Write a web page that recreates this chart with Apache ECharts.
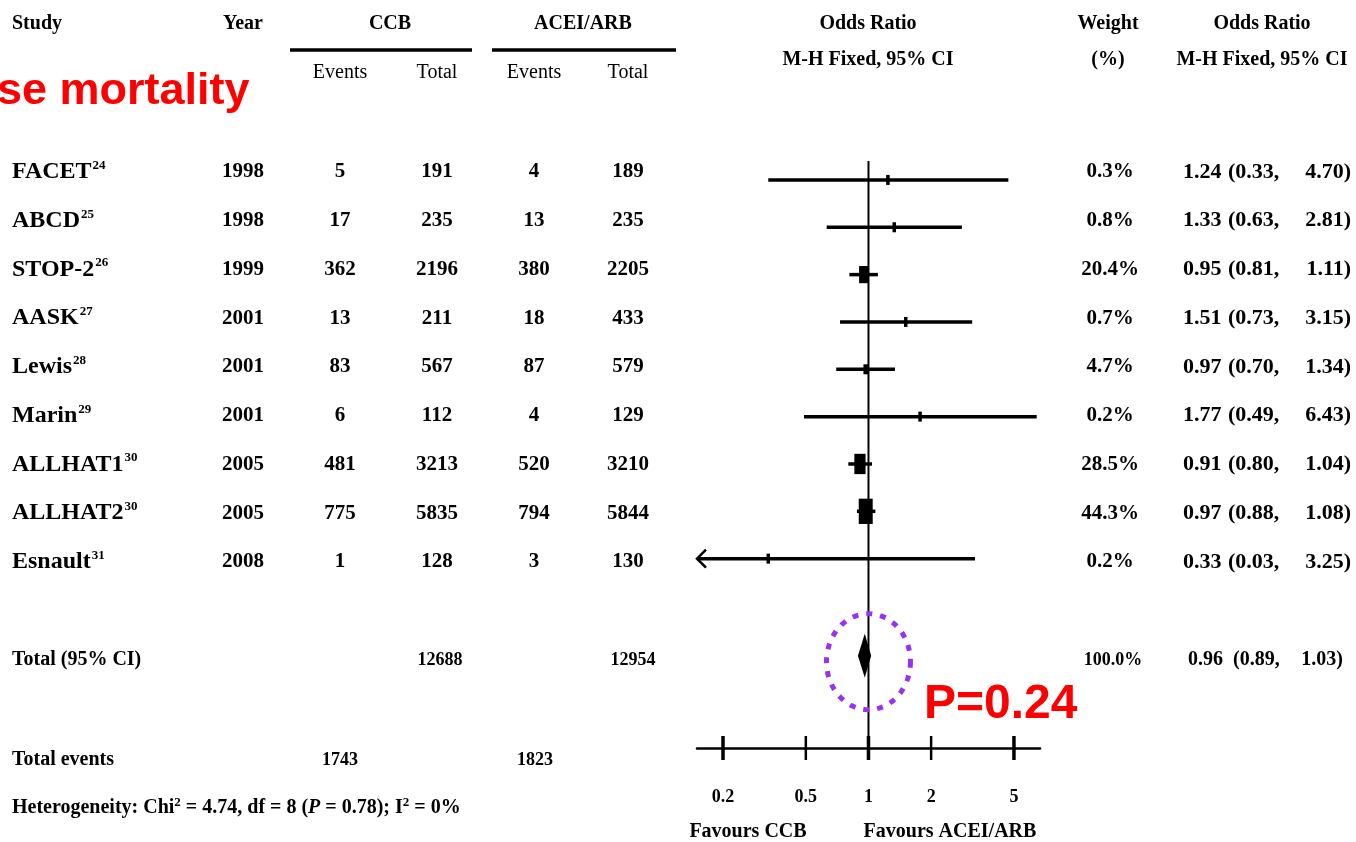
<!DOCTYPE html>
<html><head><meta charset="utf-8">
<script src="https://cdn.jsdelivr.net/npm/echarts@6/dist/echarts.min.js"></script>
<style>html,body{margin:0;padding:0;background:#fff}#c{width:1356px;height:842px}</style>
</head><body><div id="c"></div>
<script>
// ---------------- data ----------------
const studies   = ['FACET','ABCD','STOP-2','AASK','Lewis','Marin','ALLHAT1','ALLHAT2','Esnault'];
const refs      = ['24','25','26','27','28','29','30','30','31'];
const years     = [1998,1998,1999,2001,2001,2001,2005,2005,2008];
const ccbEvents = [5,17,362,13,83,6,481,775,1];
const ccbTotal  = [191,235,2196,211,567,112,3213,5835,128];
const aceEvents = [4,13,380,18,87,4,520,794,3];
const aceTotal  = [189,235,2205,433,579,129,3210,5844,130];
const weights   = [0.3,0.8,20.4,0.7,4.7,0.2,28.5,44.3,0.2];
const oddsRatio = [1.24,1.33,0.95,1.51,0.97,1.77,0.91,0.97,0.33];
const ciLower   = [0.33,0.63,0.81,0.73,0.70,0.49,0.80,0.88,0.03];
const ciUpper   = [4.70,2.81,1.11,3.15,1.34,6.43,1.04,1.08,3.25];
const totalParticipants = [12688, 12954];
const totalEvents = [1743, 1823];
const pooledWeight = 100.0;
const pooledOR = [0.96, 0.89, 1.03];
const axisTicks = [0.2, 0.5, 1, 2, 5];
const heterogeneity = {chi2: '4.74', df: '8', p: '0.78', i2: '0%'};
const pValue = 'P=0.24';

// ---------------- layout / style ----------------
const SERIF = '"Liberation Serif","Times New Roman",serif';
const SANS = '"Liberation Sans",Arial,sans-serif';
const X_MIN = 0.15, X_MAX = 6.67;
const POOLED_ROW = 10.05;
const AXIS_ROW = 12;

function T(x, y, text, font, align, extra) {
  return {type:'text', x:x, y:y, silent:true,
    style:Object.assign({text:String(text), font:font, fill:'#000',
      align:align||'center', textAlign:align||'center',
      verticalAlign:'middle', textVerticalAlign:'middle'}, extra||{})};
}
const fRow = 'bold 21px ' + SERIF;
const fOR = 'bold 22px ' + SERIF;
const fHead = 'bold 20px ' + SERIF;
const fSub = '20px ' + SERIF;
const fSumText = 'bold 20px ' + SERIF;
const fSumNum = 'bold 18px ' + SERIF;

const chart = echarts.init(document.getElementById('c'));

function renderRef(params, api) {
  const a = api.coord([api.value(0), api.value(1)]);
  const b = api.coord([api.value(0), api.value(2)]);
  return {type:'line', shape:{x1:a[0], y1:a[1], x2:b[0], y2:b[1]}, style:{stroke:'#000', lineWidth:2}};
}

function renderStudy(params, api) {
  const or = api.value(0), lo = api.value(1), hi = api.value(2), row = api.value(3), w = api.value(4);
  const y = api.coord([1, row])[1];
  const loC = Math.max(lo, X_MIN), hiC = Math.min(hi, X_MAX);
  const x0 = api.coord([loC, row])[0], x1 = api.coord([hiC, row])[0], xc = api.coord([or, row])[0];
  const bw = Math.max(3.5, 2.1 * Math.sqrt(w)), bh = Math.max(10, 3.8 * Math.sqrt(w));
  const ch = [
    {type:'line', shape:{x1:x0, y1:y, x2:x1, y2:y}, style:{stroke:'#000', lineWidth:3.5}},
    {type:'rect', shape:{x:xc - bw/2, y:y - bh/2, width:bw, height:bh}, style:{fill:'#000'}}
  ];
  if (lo < X_MIN) {
    ch.push({type:'polyline', shape:{points:[[x0+9, y-9],[x0, y],[x0+9, y+9]]}, style:{stroke:'#000', lineWidth:2.5, fill:null}});
  }
  return {type:'group', children:ch};
}

function renderPooled(params, api) {
  const or = api.value(0), lo = api.value(1), hi = api.value(2), row = api.value(3);
  const y = api.coord([1, row])[1];
  const xc = api.coord([or, row])[0], x0 = api.coord([lo, row])[0], x1 = api.coord([hi, row])[0];
  const h = 22;
  const cx = api.coord([1, row])[0], cy = y + 6;
  const pts = [];
  for (let k = 0; k < 72; k++) {
    const t = k / 72 * Math.PI * 2;
    pts.push([cx + 42 * Math.cos(t), cy + 48 * Math.sin(t)]);
  }
  return {type:'group', children:[
    {type:'polygon', shape:{points:[[x0,y],[xc,y-h],[x1,y],[xc,y+h]]}, style:{fill:'#000'}},
    {type:'polygon', shape:{points:pts}, style:{fill:null, stroke:'#9b30f5', lineWidth:5, lineDash:[6,8]}}
  ]};
}

function renderTick(params, api) {
  const v = api.value(0);
  const p = api.coord([v, AXIS_ROW]);
  const major = (v === 0.2 || v === 1 || v === 5);
  return {type:'group', children:[
    {type:'line', shape:{x1:p[0], y1:p[1]-12, x2:p[0], y2:p[1]+12}, style:{stroke:'#000', lineWidth: major ? 3.5 : 2.5}},
    T(p[0], p[1] + 49, v, 'bold 18px ' + SERIF, 'center')
  ]};
}

const supRich = {
  n:{fontSize:24, fontWeight:'bold', fontFamily:SERIF, lineHeight:26, verticalAlign:'middle'},
  s:{fontSize:13, fontWeight:'bold', fontFamily:SERIF, lineHeight:26, verticalAlign:'top', padding:[0,0,0,1]}
};

function renderTable(params, api) {
  const i = api.value(1);
  const y = api.coord([0, i])[1];
  return {type:'group', children:[
    T(12, y, '{n|' + studies[i] + '}{s|' + refs[i] + '}', fRow, 'left', {rich:supRich}),
    T(243, y, years[i], fRow),
    T(340, y, ccbEvents[i], fRow),
    T(437, y, ccbTotal[i], fRow),
    T(534, y, aceEvents[i], fRow),
    T(628, y, aceTotal[i], fRow),
    T(1110, y, weights[i].toFixed(1) + '%', fRow),
    T(1183, y, oddsRatio[i].toFixed(2), fOR, 'left'),
    T(1228, y, '(' + ciLower[i].toFixed(2) + ',', fOR, 'left'),
    T(1351, y, ciUpper[i].toFixed(2) + ')', fOR, 'right')
  ]};
}

function renderSummary(params, api) {
  const yT = api.coord([0, 10.01])[1];
  const yE = api.coord([0, 12.06])[1];
  const yH = api.coord([0, 13.05])[1];
  const hetRich = {
    s:{fontSize:13, fontWeight:'bold', fontFamily:SERIF, lineHeight:24, verticalAlign:'top'},
    i:{fontSize:20, fontWeight:'bold', fontStyle:'italic', fontFamily:SERIF, lineHeight:24}
  };
  return {type:'group', children:[
    T(12, yT, 'Total (95% CI)', fSumText, 'left'),
    T(440, yT, totalParticipants[0], fSumNum),
    T(633, yT, totalParticipants[1], fSumNum),
    T(1113, yT, pooledWeight.toFixed(1) + '%', fSumNum),
    T(1188, yT, pooledOR[0].toFixed(2), 'bold 20px ' + SERIF, 'left'),
    T(1233, yT, '(' + pooledOR[1].toFixed(2) + ',', 'bold 20px ' + SERIF, 'left'),
    T(1343, yT, pooledOR[2].toFixed(2) + ')', 'bold 20px ' + SERIF, 'right'),
    T(12, yE, 'Total events', fSumText, 'left'),
    T(340, yE, totalEvents[0], fSumNum),
    T(535, yE, totalEvents[1], fSumNum),
    T(12, yH, 'Heterogeneity: Chi{s|2} = ' + heterogeneity.chi2 + ', df = ' + heterogeneity.df +
      ' ({i|P} = ' + heterogeneity.p + '); I{s|2} = ' + heterogeneity.i2, fSumText, 'left', {rich:hetRich})
  ]};
}

const graphics = [
  T(12, 24, 'Study', fHead, 'left'),
  T(243, 24, 'Year', fHead),
  T(390, 24, 'CCB', fHead),
  T(583, 24, 'ACEI/ARB', fHead),
  {type:'line', silent:true, shape:{x1:290, y1:50, x2:472, y2:50}, style:{stroke:'#000', lineWidth:3.5}},
  {type:'line', silent:true, shape:{x1:492, y1:50, x2:676, y2:50}, style:{stroke:'#000', lineWidth:3.5}},
  T(340, 73, 'Events', fSub),
  T(437, 73, 'Total', fSub),
  T(534, 73, 'Events', fSub),
  T(628, 73, 'Total', fSub),
  T(868, 24, 'Odds Ratio', fHead),
  T(868, 60, 'M-H Fixed, 95% CI', fHead),
  T(1108, 24, 'Weight', fHead),
  T(1108, 60, '(%)', fHead),
  T(1262, 24, 'Odds Ratio', fHead),
  T(1262, 60, 'M-H Fixed, 95% CI', fHead),
  T(748, 832, 'Favours CCB', 'bold 20px ' + SERIF),
  T(950, 832, 'Favours ACEI/ARB', 'bold 20px ' + SERIF),
  T(-3, 92, 'se mortality', 'bold 45px ' + SANS, 'left', {fill:'#ff0000'}),
  T(924, 705, pValue, 'bold 48px ' + SANS, 'left', {fill:'#ff0000'})
];

chart.setOption({
  animation:false,
  backgroundColor:'#fff',
  grid:[
    {left:697, width:343, top:161, height:587},
    {left:0, width:1356, top:172, height:390}
  ],
  xAxis:[
    {gridIndex:0, type:'log', logBase:10, min:X_MIN, max:X_MAX,
     axisLine:{show:true, onZero:false, lineStyle:{color:'#000', width:2.5}},
     axisTick:{show:false}, axisLabel:{show:false}, splitLine:{show:false}},
    {gridIndex:1, type:'value', min:0, max:1356, show:false}
  ],
  yAxis:[
    {gridIndex:0, type:'value', inverse:true, min:-0.4, max:AXIS_ROW, show:false},
    {gridIndex:1, type:'value', inverse:true, min:0, max:8, show:false}
  ],
  graphic:graphics,
  series:[
    {type:'custom', xAxisIndex:0, yAxisIndex:0, renderItem:renderRef, data:[[1, -0.4, AXIS_ROW]], z:3, silent:true},
    {type:'custom', xAxisIndex:0, yAxisIndex:0, renderItem:renderStudy, z:4, silent:true,
     data:studies.map((s,i)=>[oddsRatio[i], ciLower[i], ciUpper[i], i, weights[i]])},
    {type:'custom', xAxisIndex:0, yAxisIndex:0, renderItem:renderPooled, z:4, silent:true,
     data:[[pooledOR[0], pooledOR[1], pooledOR[2], POOLED_ROW]]},
    {type:'custom', xAxisIndex:0, yAxisIndex:0, renderItem:renderTick, z:4, silent:true,
     data:axisTicks.map(t=>[t])},
    {type:'custom', xAxisIndex:1, yAxisIndex:1, renderItem:renderTable, silent:true,
     data:studies.map((s,i)=>[0, i])},
    {type:'custom', xAxisIndex:1, yAxisIndex:1, renderItem:renderSummary, silent:true,
     data:[[0, 0]]}
  ]
});
</script>
</body></html>
